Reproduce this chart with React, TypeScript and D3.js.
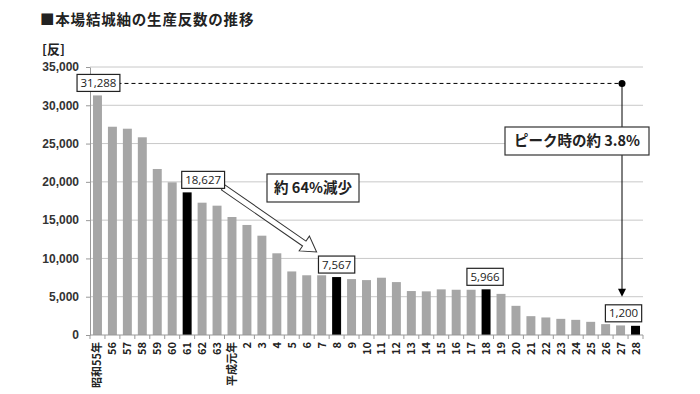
import React, { useEffect, useRef } from 'react';
import * as d3 from 'd3';

const title = '■本場結城紬の生産反数の推移';
const unitLabel = '[反]';

const categories = [
  '昭和55年', '56', '57', '58', '59', '60', '61', '62', '63', '平成元年',
  '2', '3', '4', '5', '6', '7', '8', '9', '10', '11', '12', '13', '14', '15',
  '16', '17', '18', '19', '20', '21', '22', '23', '24', '25', '26', '27', '28',
];
const values = [
  31288, 27200, 26940, 25820, 21680, 19940, 18627, 17280, 16890, 15410,
  14370, 12970, 10670, 8300, 7800, 7800, 7567, 7300, 7170, 7480, 6910, 5740, 5700, 5960,
  5910, 5910, 5966, 5370, 3810, 2460, 2290, 2110, 1980, 1720, 1420, 1250, 1200,
];
const highlighted = ['61', '8', '18', '28'];
const yTicks = [0, 5000, 10000, 15000, 20000, 25000, 30000, 35000];

// value boxes: category, horizontal offset of the box from the bar centre
const valueLabels: [string, number][] = [
  ['昭和55年', 1],
  ['61', 16],
  ['8', 0],
  ['18', -1],
  ['28', -12],
];

const W = 700;
const H = 394;
const margin = { top: 67, right: 57, bottom: 59, left: 90 };

const App: React.FC = () => {
  const svgRef = useRef<SVGSVGElement>(null);

  useEffect(() => {
    if (!svgRef.current) return;
    const svg = d3.select(svgRef.current);
    svg.selectAll('*').remove();

    const x = d3.scaleBand<string>()
      .domain(categories)
      .range([margin.left, W - margin.right])
      .paddingInner(0.4)
      .paddingOuter(0.2);
    const y = d3.scaleLinear().domain([0, 35000]).range([H - margin.bottom, margin.top]);
    const fmt = d3.format(',');
    const step = x.step();

    svg.append('rect').attr('width', W).attr('height', H).attr('fill', '#fff');

    // title
    svg.append('text')
      .attr('x', 40).attr('y', 25)
      .style('font-family', '"Noto Sans CJK JP", sans-serif')
      .style('font-size', '14.5px').style('font-weight', 'bold')
      .style('letter-spacing', '0.8px')
      .attr('fill', '#222')
      .text(title);

    svg.append('text')
      .attr('x', 42).attr('y', 54)
      .style('font-family', '"Noto Sans CJK JP", sans-serif')
      .style('font-size', '13px').style('font-weight', 'bold')
      .attr('fill', '#222')
      .text(unitLabel);

    // grid
    svg.append('g').selectAll('line').data(yTicks.slice(1)).join('line')
      .attr('x1', margin.left).attr('x2', W - margin.right)
      .attr('y1', d => y(d)).attr('y2', d => y(d))
      .attr('stroke', '#c8c8c8').attr('stroke-width', 1);

    // y axis
    const yAxis = svg.append('g')
      .attr('transform', `translate(${margin.left},0)`)
      .call(d3.axisLeft(y).tickValues(yTicks).tickSize(4).tickSizeOuter(0).tickFormat(d => fmt(d as number)));
    yAxis.select('.domain').attr('stroke', '#999');
    yAxis.selectAll('.tick line').attr('stroke', '#999');
    yAxis.selectAll('.tick text')
      .attr('x', -11)
      .style('font-family', '"Liberation Sans", Arial, sans-serif')
      .style('font-size', '12px').style('font-weight', 'bold')
      .attr('fill', '#333');

    // bars
    svg.append('g').selectAll('rect').data(categories).join('rect')
      .attr('x', d => x(d)!)
      .attr('width', x.bandwidth())
      .attr('y', (d, i) => y(values[i]))
      .attr('height', (d, i) => y(0) - y(values[i]))
      .attr('fill', d => (highlighted.includes(d) ? '#000' : '#a6a6a6'));

    // x axis
    const base = y(0);
    svg.append('line')
      .attr('x1', margin.left).attr('x2', W - margin.right)
      .attr('y1', base).attr('y2', base)
      .attr('stroke', '#999');
    svg.append('g').selectAll('line').data(d3.range(categories.length + 1)).join('line')
      .attr('x1', i => margin.left + i * step).attr('x2', i => margin.left + i * step)
      .attr('y1', base).attr('y2', base + 4)
      .attr('stroke', '#999');
    svg.append('g').selectAll('text').data(categories).join('text')
      .attr('transform', d => `translate(${x(d)! + x.bandwidth() / 2 + 4},${base + 7}) rotate(-90)`)
      .attr('text-anchor', 'end')
      .style('font-family', '"Noto Sans CJK JP", sans-serif')
      .style('font-size', '11px').style('font-weight', 'bold')
      .attr('fill', '#222')
      .text(d => d);

    const catX = (c: string) => x(c)! + x.bandwidth() / 2;
    const catY = (c: string) => y(values[categories.indexOf(c)]);

    // peak dashed line and drop arrow
    const peakY = catY('昭和55年') - 12;
    const dotX = 622;
    svg.append('line')
      .attr('x1', catX('昭和55年') + 20).attr('x2', dotX)
      .attr('y1', peakY).attr('y2', peakY)
      .attr('stroke', '#000').attr('stroke-width', 1).attr('stroke-dasharray', '4,3');
    svg.append('circle').attr('cx', dotX).attr('cy', peakY).attr('r', 3.5).attr('fill', '#000');
    const tipY = catY('28') - 29;
    svg.append('line')
      .attr('x1', dotX).attr('x2', dotX).attr('y1', peakY).attr('y2', tipY - 6)
      .attr('stroke', '#000').attr('stroke-width', 1);
    svg.append('path')
      .attr('d', `M${dotX - 4},${tipY - 8}L${dotX + 4},${tipY - 8}L${dotX},${tipY}Z`)
      .attr('fill', '#000');

    // hollow block arrow 61 -> 8
    const ax0 = catX('61') + 36, ay0 = catY('61') - 5;
    const ax1 = catX('8') - 20, ay1 = catY('8') - 25;
    const ang = Math.atan2(ay1 - ay0, ax1 - ax0) * 180 / Math.PI;
    const L = Math.hypot(ax1 - ax0, ay1 - ay0);
    const sw = 3, hl = 15, hw = 9;
    svg.append('path')
      .attr('transform', `translate(${ax0},${ay0}) rotate(${ang})`)
      .attr('d', `M0,${-sw}L${L - hl},${-sw}L${L - hl},${-hw}L${L},0L${L - hl},${hw}L${L - hl},${sw}L0,${sw}Z`)
      .attr('fill', '#fff').attr('stroke', '#333').attr('stroke-width', 1);

    // value boxes
    valueLabels.forEach(([c, dx]) => {
      const v = values[categories.indexOf(c)];
      const cx = catX(c) + dx;
      const by = catY(c) - 4;
      const g = svg.append('g');
      const t = g.append('text')
        .attr('x', cx).attr('y', by - 4.5)
        .attr('text-anchor', 'middle')
        .style('font-family', '"Open Sans", sans-serif')
        .style('font-size', '11.5px')
        .attr('fill', '#222')
        .text(fmt(v));
      const tw = (t.node() as SVGTextElement).getComputedTextLength();
      g.insert('rect', 'text')
        .attr('x', cx - tw / 2 - 3.5).attr('y', by - 17)
        .attr('width', tw + 7).attr('height', 17)
        .attr('fill', '#fff').attr('stroke', '#222').attr('stroke-width', 1.2);
    });

    // annotation boxes
    const note = (text: string, cx: number, cy: number, w: number, h: number) => {
      svg.append('rect')
        .attr('x', cx - w / 2).attr('y', cy - h / 2).attr('width', w).attr('height', h)
        .attr('fill', '#fff').attr('stroke', '#333').attr('stroke-width', 1.2);
      svg.append('text')
        .attr('x', cx).attr('y', cy).attr('dy', '0.36em')
        .attr('text-anchor', 'middle')
        .style('font-family', '"Noto Sans CJK JP", sans-serif')
        .style('font-size', '14.5px').style('font-weight', 'bold')
        .attr('fill', '#222')
        .text(text);
    };
    note('約 64%減少', 313, 188, 92, 28);
    note('ピーク時の約 3.8%', 577, 141, 144, 28);
  }, []);

  return (
    <svg ref={svgRef} width={W} height={H} style={{ position: 'absolute', left: 0, top: 0 }} />
  );
};

export default App;
